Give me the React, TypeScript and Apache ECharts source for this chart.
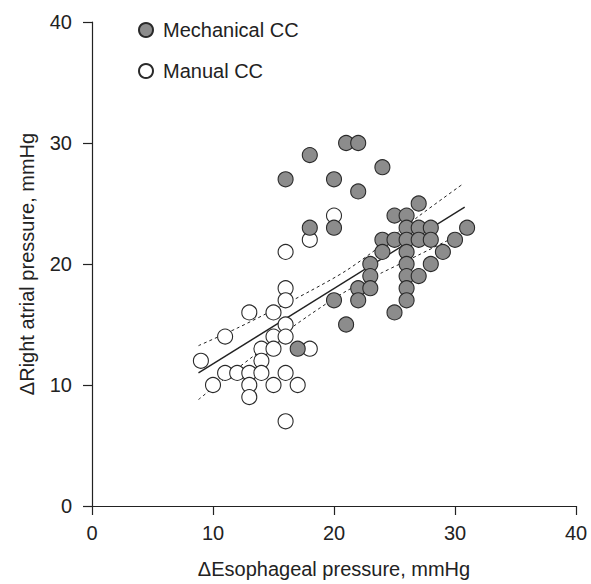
import React, { useEffect, useRef } from "react";
import * as echarts from "echarts";

const mechanicalPoints: [number, number][] = [
  [16, 27], [17, 13], [18, 29], [18, 23], [20, 27], [20, 23], [20, 17],
  [21, 30], [21, 15], [22, 30], [22, 26], [22, 18], [22, 17],
  [23, 20], [23, 19], [23, 18], [24, 28], [24, 22], [24, 21],
  [25, 24], [25, 22], [25, 16],
  [26, 24], [26, 23], [26, 22], [26, 21], [26, 20], [26, 19], [26, 18], [26, 17],
  [27, 25], [27, 23], [27, 22], [27, 19],
  [28, 23], [28, 22], [28, 20], [29, 21], [30, 22], [31, 23],
];

const manualPoints: [number, number][] = [
  [9, 12], [10, 10], [11, 14], [11, 11], [12, 11],
  [13, 16], [13, 11], [13, 10], [13, 9],
  [14, 13], [14, 12], [14, 11],
  [15, 16], [15, 14], [15, 13], [15, 10],
  [16, 21], [16, 18], [16, 17], [16, 15], [16, 14], [16, 11], [16, 7],
  [17, 10], [18, 22], [18, 13], [20, 24],
];

const fitLine: [number, number][] = [
  [8.8, 11.0], [30.8, 24.7],
];

const upperBand: [number, number][] = [
  [8.8, 13.25], [12, 14.7], [15, 16.2], [18, 17.75], [21, 19.45],
  [24, 21.6], [27, 23.95], [30.7, 26.65],
];

const lowerBand: [number, number][] = [
  [8.8, 8.8], [12, 11.35], [15, 13.65], [18, 15.8], [21, 17.75],
  [24, 19.3], [27, 20.75], [30.7, 22.6],
];

const xTicks = { min: 0, max: 40, interval: 10 };
const yTicks = { min: 0, max: 40, interval: 10 };

const FONT = "'Liberation Sans', Arial, Helvetica, sans-serif";
const INK = "#222";
const FS = 20;

export default function App() {
  const ref = useRef<HTMLDivElement>(null);

  useEffect(() => {
    document.body.style.margin = "0";
    if (!ref.current) return;
    const chart = echarts.init(ref.current, null, { renderer: "svg" });
    const bandStyle = { color: INK, width: 1, type: [3, 3] as any };
    chart.setOption({
      animation: false,
      backgroundColor: "#fff",
      textStyle: { fontFamily: FONT },
      grid: { left: 92, top: 22, width: 484, height: 484 },
      legend: {
        data: ["Mechanical CC", "Manual CC"],
        orient: "vertical",
        left: 138,
        top: 20,
        padding: 0,
        itemWidth: 14,
        itemHeight: 14,
        itemGap: 21,
        textStyle: { fontSize: FS, color: INK, fontFamily: FONT, padding: [0, 0, 0, 5] },
        selectedMode: false,
      },
      xAxis: {
        type: "value",
        ...xTicks,
        name: "\u0394Esophageal pressure, mmHg",
        nameLocation: "middle",
        nameGap: 53,
        nameTextStyle: { fontSize: FS, color: INK, fontFamily: FONT },
        axisLine: { show: true, onZero: false, lineStyle: { color: INK, width: 1.2 } },
        axisTick: { show: true, inside: false, length: 9, lineStyle: { color: INK, width: 1.2 } },
        axisLabel: { fontSize: FS, color: INK, margin: 17, fontFamily: FONT },
        splitLine: { show: false },
      },
      yAxis: {
        type: "value",
        ...yTicks,
        name: "\u0394Right atrial pressure, mmHg",
        nameLocation: "middle",
        nameGap: 55,
        nameRotate: 90,
        nameTextStyle: { fontSize: FS, color: INK, fontFamily: FONT },
        axisLine: { show: true, onZero: false, lineStyle: { color: INK, width: 1.2 } },
        axisTick: { show: true, inside: false, length: 9, lineStyle: { color: INK, width: 1.2 } },
        axisLabel: { fontSize: FS, color: INK, margin: 20, fontFamily: FONT },
        splitLine: { show: false },
      },
      series: [
        {
          name: "fit",
          type: "line",
          data: fitLine,
          symbol: "none",
          lineStyle: { color: INK, width: 1.4 },
          z: 1,
          silent: true,
        },
        {
          name: "upper",
          type: "line",
          data: upperBand,
          symbol: "none",
          smooth: 0.3,
          lineStyle: bandStyle,
          z: 1,
          silent: true,
        },
        {
          name: "lower",
          type: "line",
          data: lowerBand,
          symbol: "none",
          smooth: 0.3,
          lineStyle: bandStyle,
          z: 1,
          silent: true,
        },
        {
          name: "Manual CC",
          type: "scatter",
          data: manualPoints,
          symbol: "circle",
          symbolSize: 15,
          itemStyle: { color: "#ffffff", borderColor: "#2a2a2a", borderWidth: 1.1, opacity: 1 },
          z: 3,
        },
        {
          name: "Mechanical CC",
          type: "scatter",
          data: mechanicalPoints,
          symbol: "circle",
          symbolSize: 15,
          itemStyle: { color: "#8c8c8c", borderColor: "#2a2a2a", borderWidth: 1.1, opacity: 1 },
          z: 4,
        },
      ],
    });
    return () => chart.dispose();
  }, []);

  return <div ref={ref} style={{ width: 591, height: 584 }} />;
}
